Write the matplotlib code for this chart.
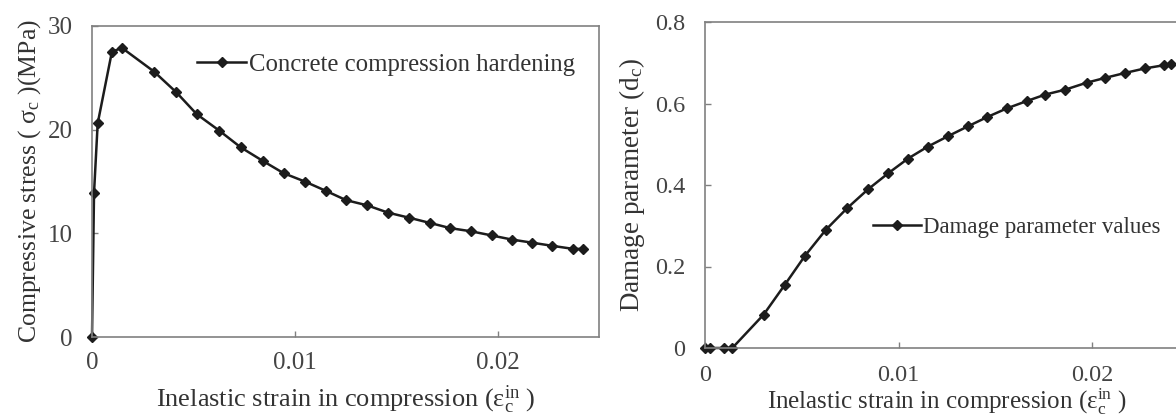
import matplotlib
matplotlib.use("Agg")
import matplotlib.pyplot as plt

# ---- data ----
strain_stress = [0.0, 0.0001, 0.00028, 0.00098, 0.00147, 0.00306, 0.00416, 0.00516,
                 0.00628, 0.00733, 0.00841, 0.00945, 0.01049, 0.01153, 0.01253,
                 0.01357, 0.01459, 0.01565, 0.01667, 0.01767, 0.01868, 0.01970,
                 0.02070, 0.02170, 0.02268, 0.02372, 0.02420]
stress = [0.0, 13.9, 20.6, 27.5, 27.9, 25.6, 23.6, 21.5, 19.9, 18.3, 17.0, 15.8,
          15.0, 14.1, 13.2, 12.7, 12.0, 11.5, 11.0, 10.5, 10.2, 9.8, 9.4, 9.1,
          8.8, 8.5, 8.5]

strain_damage = [0.0, 0.00025, 0.00097, 0.00141, 0.00303, 0.00412, 0.00516, 0.00624,
                 0.00734, 0.00841, 0.00947, 0.01049, 0.01150, 0.01256, 0.01358,
                 0.01459, 0.01559, 0.01662, 0.01758, 0.01861, 0.01971, 0.02068,
                 0.02170, 0.02271, 0.02371, 0.02406]
damage = [0.0, 0.0, 0.0, 0.0, 0.082, 0.155, 0.226, 0.290, 0.343, 0.389, 0.429,
          0.465, 0.494, 0.520, 0.544, 0.567, 0.588, 0.606, 0.622, 0.634, 0.651,
          0.663, 0.675, 0.686, 0.694, 0.696]

x_ticks = [0, 0.01, 0.02]
x_ticklabels = ["0", "0.01", "0.02"]
stress_ticks = [0, 10, 20, 30]
stress_ticklabels = ["0", "10", "20", "30"]
damage_ticks = [0, 0.2, 0.4, 0.6, 0.8]
damage_ticklabels = ["0", "0.2", "0.4", "0.6", "0.8"]

label_stress = "Concrete compression hardening"
label_damage = "Damage parameter values"
xlabel_text = "Inelastic strain in compression (ε$_\\mathrm{c}^\\mathrm{in}$ )"
ylabel_stress = "Compressive stress ( σ$_\\mathrm{c}$ )(MPa)"
ylabel_damage = "Damage parameter (d$_\\mathrm{c}$)"

# ---- style ----
plt.rcParams["font.family"] = ["Liberation Serif", "DejaVu Serif"]
plt.rcParams["mathtext.fontset"] = "custom"
plt.rcParams["mathtext.rm"] = "Liberation Serif"
plt.rcParams["mathtext.it"] = "Liberation Serif:italic"

TEXT = "#444444"
LABEL = "#333333"
FRAME = "#808080"
LINE = "#1c1c1c"

fig = plt.figure(figsize=(11.76, 4.16), dpi=100)
W, H = 1176, 416

def make_ax(l, r, t, b):
    return fig.add_axes([l / W, (H - b) / H, (r - l) / W, (b - t) / H])

ax1 = make_ax(92, 599, 26, 337)
ax2 = make_ax(705, 1189, 22, 348)

def style(ax, fs):
    for s in ax.spines.values():
        s.set_color(FRAME)
        s.set_linewidth(1.2)
    ax.tick_params(direction="in", length=4, width=1, color=FRAME,
                   labelsize=fs, labelcolor=TEXT, top=False, right=False)
    ax.tick_params(axis="y", pad=14)
    ax.tick_params(axis="x", pad=11)

# left panel
ax1.plot(strain_stress, stress, color=LINE, lw=1.8, marker="D", ms=5.5,
         mfc=LINE, mec=LINE, label=label_stress, clip_on=False)
ax1.set_xlim(0, 0.025)
ax1.set_ylim(0, 30)
ax1.set_xticks(x_ticks, x_ticklabels)
ax1.set_yticks(stress_ticks, stress_ticklabels)
style(ax1, 18)
ax1.set_xlabel(xlabel_text, fontsize=19, color=LABEL, labelpad=6.5)
ax1.set_ylabel(ylabel_stress, fontsize=18.5, color=LABEL, labelpad=3)
ax1.legend(loc="center left", bbox_to_anchor=(0.207, 0.875), frameon=False,
           fontsize=17.8, handlelength=2.0, handletextpad=0.1, labelcolor=LABEL,
           borderpad=0, borderaxespad=0)

# right panel
ax2.plot(strain_damage, damage, color=LINE, lw=1.8, marker="D", ms=5.5,
         mfc=LINE, mec=LINE, label=label_damage, clip_on=False)
ax2.set_xlim(0, 0.025)
ax2.set_ylim(0, 0.8)
ax2.set_xticks(x_ticks, x_ticklabels)
ax2.set_yticks(damage_ticks, damage_ticklabels)
style(ax2, 17.5)
ax2.tick_params(axis="x", pad=12)
ax2.set_xlabel(xlabel_text, fontsize=18, color=LABEL, labelpad=0.5)
ax2.set_ylabel(ylabel_damage, fontsize=19.5, color=LABEL, labelpad=6)
ax2.legend(loc="center left", bbox_to_anchor=(0.347, 0.371), frameon=False,
           fontsize=16.5, handlelength=2.1, handletextpad=0.1, labelcolor=LABEL,
           borderpad=0, borderaxespad=0)

fig.savefig("out.png", dpi=100)
